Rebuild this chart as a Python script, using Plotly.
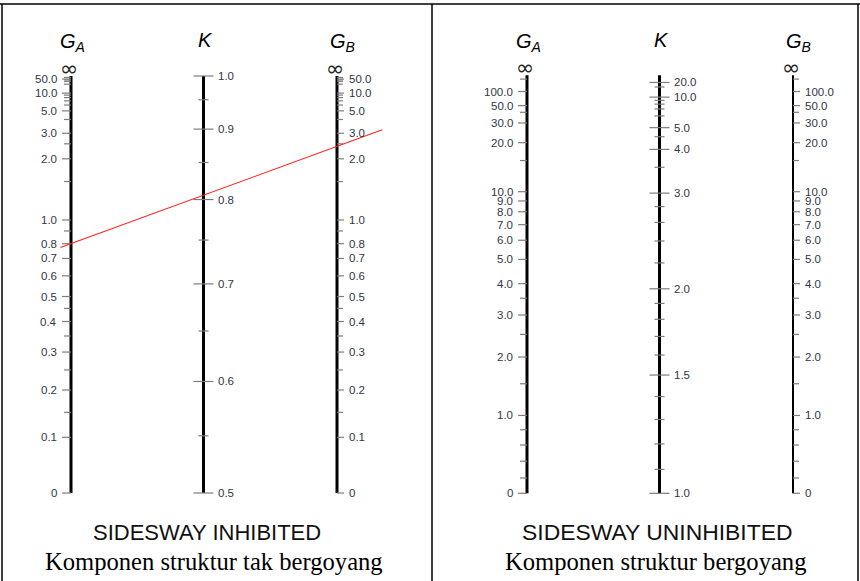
import math
import plotly.graph_objects as go

# ---------------- chart values ----------------
# Sidesway inhibited (braced frame) alignment chart
g_major_inh = [50, 10, 5, 3, 2, 1, 0.8, 0.7, 0.6, 0.5, 0.4, 0.3, 0.2, 0.1, 0]
g_minor_inh = [100, 40, 30, 20, 9, 8, 7, 6, 4, 2.5, 1.5, 0.9, 0.45, 0.35, 0.25, 0.15]
k_major_inh = [1.0, 0.9, 0.8, 0.7, 0.6, 0.5]
k_minor_inh = [0.95, 0.85, 0.75, 0.65, 0.55]

# Sidesway uninhibited (unbraced frame) alignment chart
g_major_un = [100, 50, 30, 20, 10, 9, 8, 7, 6, 5, 4, 3, 2, 1, 0]
g_minor_un = [500, 40, 15, 3.5, 2.5, 1.5, 0.8, 0.6, 0.4, 0.2]
k_major_un = [20, 10, 5, 4, 3, 2, 1.5, 1.0]
k_minor_un = [15, 9, 8, 7, 6, 4.5, 3.5, 2.8, 2.6, 2.4, 2.2, 1.9, 1.8, 1.7, 1.6,
              1.4, 1.3, 1.2, 1.1]

# worked example on the braced chart
example_ga = 0.8
example_gb = 2.4

titles_bottom = ["SIDESWAY INHIBITED", "SIDESWAY UNINHIBITED"]
titles_sub = ["Komponen struktur tak bergoyang", "Komponen struktur bergoyang"]


# ---------------- scales ----------------
def g_logit(g, coef):
    a, b, c = coef
    x = math.log(g)
    return a + b * x + c * x * x, x


def to_fraction(z):
    return 1.0 / (1.0 + math.exp(-z))


def g_fraction(g, coef):
    """Fraction of the axis height (0 at G=0, 1 at G=inf) for a G value."""
    if g <= 0:
        return 0.0
    if math.isinf(g):
        return 1.0
    return to_fraction(g_logit(g, coef)[0])


def k_fraction(k, p):
    """K scale: placed level with the G value that gives K when G_A = G_B,
    with the compressed top of the printed scale."""
    g = p["gsym"](k)
    if g <= 0:
        return 0.0
    if math.isinf(g):
        return 1.0
    z, x = g_logit(g, p["coef"])
    amp, mid, width = p["ktop"]
    if amp:
        z -= amp / (1.0 + math.exp(-(x - mid) / width))
    return to_fraction(z)


def g_sym_inhibited(k):
    """G (=G_A=G_B) that gives effective length factor K, braced frame."""
    if k <= 0.5:
        return 0.0
    if k >= 1.0:
        return math.inf
    a = math.pi / k
    c = a / math.tan(a)
    d = 2.0 * math.tan(a / 2.0) / a - 1.0
    A = a * a / 4.0
    B = 1.0 - c
    return (-B + math.sqrt(B * B - 4.0 * A * d)) / (2.0 * A)


def g_sym_uninhibited(k):
    """G (=G_A=G_B) that gives effective length factor K, sway frame."""
    if k <= 1.0:
        return 0.0
    if math.isinf(k):
        return math.inf
    a = math.pi / k
    c = a / math.tan(a)
    return 6.0 * (c + math.sqrt(c * c + a * a)) / (a * a)


def fmt(v):
    return "0" if v == 0 else f"{v:.1f}"


panels = [
    dict(coef=(0.64, 1.09, 0.0), gsym=g_sym_inhibited, ktop=(0.0, 0.0, 1.0),
         gmaj=g_major_inh, gmin=g_minor_inh, kmaj=k_major_inh, kmin=k_minor_inh,
         xa=71.0, xk=203.5, xb=337.0, y0=493.0, ytop=76.0,
         wa=3.0, wk=3.0, wb=3.0, cx=207, cx2=214, fs1=22, fs2=24.6),
    dict(coef=(-1.4746, 1.0902, -0.0158), gsym=g_sym_uninhibited, ktop=(0.62, 4.2, 0.45),
         gmaj=g_major_un, gmin=g_minor_un, kmaj=k_major_un, kmin=k_minor_un,
         xa=527.0, xk=659.5, xb=793.0, y0=493.3, ytop=75.3,
         wa=3.0, wk=3.0, wb=2.0, cx=657, cx2=655, fs1=22.9, fs2=24.6),
]

LABEL_FONT = dict(family="Liberation Sans, Arial, sans-serif", size=11.5, color="#2f3648")
TICK_COLOR = "#7d7d7d"

fig = go.Figure()
annotations = []


def ypos(p, frac):
    return p["y0"] - frac * (p["y0"] - p["ytop"])


def add_segments(segs, color, width):
    xs, ys = [], []
    for (x1, y1, x2, y2) in segs:
        xs += [x1, x2, None]
        ys += [y1, y2, None]
    fig.add_trace(go.Scatter(x=xs, y=ys, mode="lines", hoverinfo="skip",
                             line=dict(color=color, width=width), showlegend=False))


for p in panels:
    gy = lambda g: ypos(p, g_fraction(g, p["coef"]))
    ky = lambda k: ypos(p, k_fraction(k, p))

    # axis lines
    for key, wkey in (("xa", "wa"), ("xk", "wk"), ("xb", "wb")):
        fig.add_trace(go.Scatter(x=[p[key], p[key]], y=[p["ytop"], p["y0"]],
                                 mode="lines", hoverinfo="skip", showlegend=False,
                                 line=dict(color="black", width=p[wkey])))

    # G_A ticks (left side) and G_B ticks (right side)
    segs = []
    for g in p["gmaj"]:
        y = gy(g)
        segs.append((p["xa"] - 9, y, p["xa"], y))
        segs.append((p["xb"], y, p["xb"] + 7, y))
        annotations.append(dict(x=p["xa"] - 12, y=y, text=fmt(g), xanchor="right",
                                yanchor="middle", showarrow=False, font=LABEL_FONT))
        annotations.append(dict(x=p["xb"] + 10, y=y, text=fmt(g), xanchor="left",
                                yanchor="middle", showarrow=False, font=LABEL_FONT))
    for g in p["gmin"]:
        y = gy(g)
        segs.append((p["xa"] - 7, y, p["xa"], y))
        segs.append((p["xb"], y, p["xb"] + 6, y))
    # K ticks (both sides)
    for k in p["kmaj"]:
        y = ky(k)
        segs.append((p["xk"] - 10, y, p["xk"] + 10, y))
        annotations.append(dict(x=p["xk"] + 12, y=y, text=fmt(k), xanchor="left",
                                yanchor="middle", showarrow=False, font=LABEL_FONT))
    for k in p["kmin"]:
        y = ky(k)
        segs.append((p["xk"] - 5, y, p["xk"] + 5, y))
    add_segments(segs, TICK_COLOR, 1.2)

    # infinity marks and axis titles
    for key in ("xa", "xb"):
        annotations.append(dict(x=p[key] - 2, y=p["ytop"] - 8, text="∞", showarrow=False,
                                xanchor="center", yanchor="middle",
                                font=dict(family="DejaVu Sans", size=22, color="#222222")))
    annotations.append(dict(x=p["xa"] + 1, y=42, text="<i>G<sub>A</sub></i>", showarrow=False,
                            font=dict(family="Liberation Sans, Arial", size=20, color="black")))
    annotations.append(dict(x=p["xk"] + 2, y=40, text="<i>K</i>", showarrow=False,
                            font=dict(family="Liberation Sans, Arial", size=20, color="black")))
    annotations.append(dict(x=p["xb"] + 5, y=42, text="<i>G<sub>B</sub></i>", showarrow=False,
                            font=dict(family="Liberation Sans, Arial", size=20, color="black")))

# bottom captions
for p, t1, t2 in zip(panels, titles_bottom, titles_sub):
    annotations.append(dict(x=p["cx"], y=532, text=t1, showarrow=False,
                            font=dict(family="Liberation Sans, Arial", size=p["fs1"],
                                      color="#111111")))
    annotations.append(dict(x=p["cx2"], y=561, text=t2, showarrow=False,
                            font=dict(family="Liberation Serif, Times New Roman", size=p["fs2"],
                                      color="black")))

# example line joining G_A and G_B on the braced chart
p = panels[0]
ya = ypos(p, g_fraction(example_ga, p["coef"]))
yb = ypos(p, g_fraction(example_gb, p["coef"]))
t0, t1 = -0.04, 1.17
fig.add_trace(go.Scatter(
    x=[p["xa"] + t0 * (p["xb"] - p["xa"]), p["xa"] + t1 * (p["xb"] - p["xa"])],
    y=[ya + t0 * (yb - ya), ya + t1 * (yb - ya)],
    mode="lines", hoverinfo="skip", showlegend=False,
    line=dict(color="#ff2020", width=1.1)))

# frame
shapes = [
    dict(type="line", x0=0, x1=860, y0=4, y1=4, line=dict(color="black", width=1.5)),
    dict(type="line", x0=2, x1=2, y0=4, y1=581, line=dict(color="black", width=1.5)),
    dict(type="line", x0=432, x1=432, y0=4, y1=581, line=dict(color="black", width=1.5)),
    dict(type="line", x0=858, x1=858, y0=4, y1=581, line=dict(color="black", width=1.5)),
]

fig.update_layout(
    width=860, height=581,
    margin=dict(l=0, r=0, t=0, b=0),
    paper_bgcolor="white", plot_bgcolor="white",
    xaxis=dict(range=[0, 860], visible=False, fixedrange=True),
    yaxis=dict(range=[581, 0], visible=False, fixedrange=True),
    annotations=annotations, shapes=shapes, showlegend=False,
)

fig.write_html("out.html")
